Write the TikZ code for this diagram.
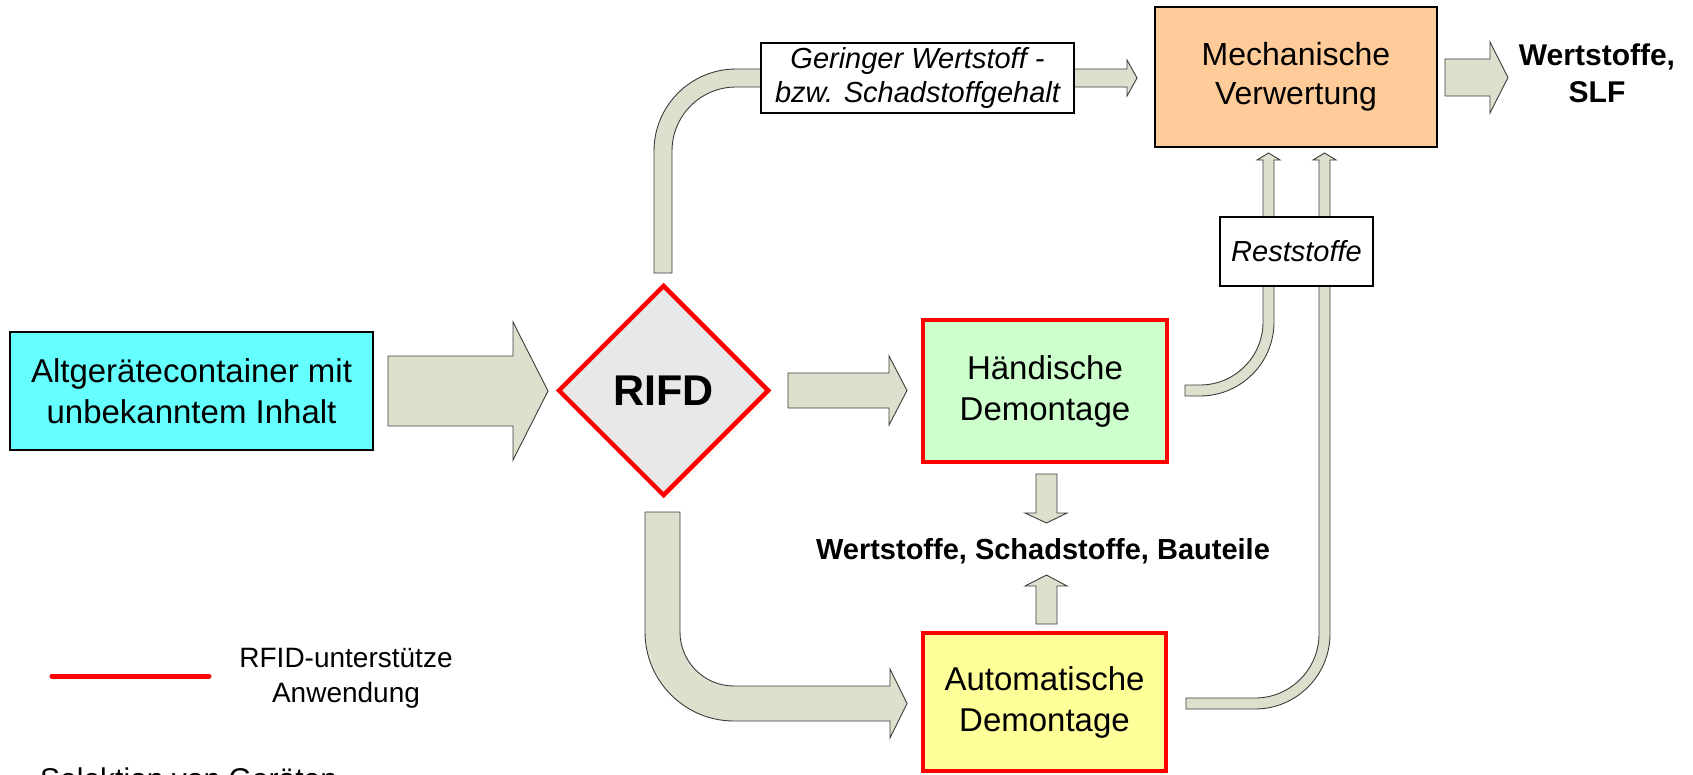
\documentclass[tikz,border=0pt]{standalone}
\usepackage{fontspec}
\setmainfont{Liberation Sans}
\usetikzlibrary{shapes.geometric}
\definecolor{arrowfill}{RGB}{221,224,204}
\definecolor{arrowline}{RGB}{60,60,60}
\definecolor{cyanfill}{RGB}{102,255,255}
\definecolor{greenfill}{RGB}{204,255,204}
\definecolor{yellowfill}{RGB}{255,255,153}
\definecolor{peachfill}{RGB}{255,204,153}
\definecolor{diamfill}{RGB}{232,232,232}
\definecolor{rfidred}{RGB}{255,0,0}
\begin{document}
\begin{tikzpicture}[x=1pt,y=-1pt,
  blk/.style={fill=arrowfill,draw=arrowline,line width=0.9pt,line join=miter},
  plainbox/.style={draw=black,line width=1.3pt,inner sep=0pt,align=center},
  rfidbox/.style={draw=rfidred,line width=4.5pt,inner sep=0pt,align=center},
  boxfont/.style={font=\fontsize{33}{41}\selectfont},
  labelfont/.style={font=\itshape\fontsize{29}{34}\selectfont},
  boldfont/.style={font=\bfseries\fontsize{29}{37}\selectfont}
]
\useasboundingbox (0,0) rectangle (1693,774);

% ---------- block arrows (drawn first, boxes on top) ----------
% container -> RFID
\draw[blk] (388,356) -- (513,356) -- (513,322) -- (548,391) -- (513,460) -- (513,426) -- (388,426) -- cycle;
% RFID -> Haendische
\draw[blk] (788,373) -- (889,373) -- (889,356) -- (907,390.5) -- (889,425) -- (889,408) -- (788,408) -- cycle;
% RFID (top) -> Mechanische Verwertung
\draw[blk] (654,273) -- (654,151) arc[start angle=180,end angle=270,radius=82]
  -- (1127,69) -- (1127,60) -- (1137,78) -- (1127,96) -- (1127,87) -- (736,87)
  arc[start angle=270,end angle=180,radius=64] -- (672,273) -- cycle;
% RFID (bottom) -> Automatische Demontage
\draw[blk] (645,512) -- (645,632) arc[start angle=180,end angle=90,radius=89]
  -- (890,721) -- (890,738) -- (907,703.5) -- (890,669) -- (890,686) -- (734,686)
  arc[start angle=90,end angle=180,radius=54] -- (680,512) -- cycle;
% Mechanische -> Wertstoffe, SLF
\draw[blk] (1445,59) -- (1490,59) -- (1490,42) -- (1508,77.5) -- (1490,113) -- (1490,96) -- (1445,96) -- cycle;
% Haendische -> Wertstoffe...
\draw[blk] (1036,474) -- (1057,474) -- (1057,513) -- (1067,513) -- (1046.5,523) -- (1025,513) -- (1036,513) -- cycle;
% Automatische -> Wertstoffe...
\draw[blk] (1036,624) -- (1057,624) -- (1057,586) -- (1067,586) -- (1046.5,575) -- (1025,586) -- (1036,586) -- cycle;
% Haendische -> Reststoffe -> Mechanische
\draw[blk] (1185,385) -- (1200,385) arc[start angle=90,end angle=0,radius=63]
  -- (1263,160) -- (1257,160) -- (1268.5,153) -- (1280,160) -- (1274,160) -- (1274,322)
  arc[start angle=0,end angle=90,radius=74] -- (1185,396) -- cycle;
% Automatische -> Reststoffe -> Mechanische
\draw[blk] (1186,698) -- (1255,698) arc[start angle=90,end angle=0,radius=64]
  -- (1319,160) -- (1313,160) -- (1324.5,153) -- (1336,160) -- (1330,160) -- (1330,634)
  arc[start angle=0,end angle=90,radius=75] -- (1186,709) -- cycle;

% ---------- nodes ----------
\node[plainbox,fill=cyanfill,minimum width=363pt,minimum height=118pt,boxfont] (cont) at (191.5,391)
  {Altgerätecontainer mit\\unbekanntem Inhalt};
\node[diamond,draw=rfidred,line width=4.5pt,fill=diamfill,inner sep=0pt,
  minimum width=211pt,minimum height=211pt,font=\bfseries\fontsize{43}{43}\selectfont] (rifd) at (663.5,390.5) {RIFD};
\node[rfidbox,fill=greenfill,minimum width=244pt,minimum height=142pt,boxfont] (hand) at (1045,391)
  {Händische\\Demontage};
\node[rfidbox,fill=yellowfill,minimum width=243pt,minimum height=138pt,boxfont] (auto) at (1044.5,702)
  {Automatische\\Demontage};
\node[plainbox,fill=peachfill,minimum width=282pt,minimum height=140pt,font=\fontsize{32}{39}\selectfont] (mech) at (1296,77)
  {Mechanische\\Verwertung};
\node[plainbox,fill=white,minimum width=313pt,minimum height=70pt,labelfont] (gering) at (917.5,78)
  {Geringer Wertstoff -\\bzw. Schadstoffgehalt};
\node[plainbox,fill=white,minimum width=153pt,minimum height=69pt,labelfont] (rest) at (1296.5,251.5)
  {Reststoffe};
\node[align=center,inner sep=0pt,font=\bfseries\fontsize{30}{37}\selectfont] (wslf) at (1597,73)
  {Wertstoffe,\\SLF};
\node[anchor=base,inner sep=0pt,boldfont] (wsb) at (1043,559) {Wertstoffe, Schadstoffe, Bauteile};

% ---------- legend ----------
\coordinate (legA) at (52,676);
\coordinate (legB) at (209,676);
\draw[rfidred,line width=5pt,line cap=round] (legA) -- (legB);
\node[align=center,inner sep=0pt,font=\fontsize{28}{35}\selectfont] (legtext) at (346,678)
  {RFID-unterstütze\\Anwendung};
\node[anchor=base west,inner sep=0pt,font=\fontsize{30}{36}\selectfont] (selektion) at (40,789)
  {Selektion von Geräten};
\end{tikzpicture}
\end{document}
